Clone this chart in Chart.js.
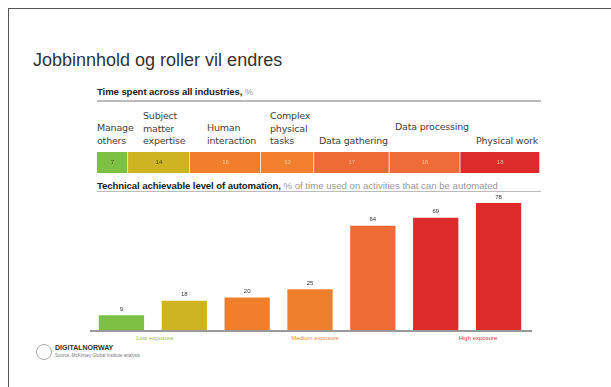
<!DOCTYPE html>
<html>
<head>
<meta charset="utf-8">
<script src="https://cdn.jsdelivr.net/npm/chart.js@4"></script>
<style>
  body { margin: 0; width: 611px; height: 387px; background: #fff; position: relative; overflow: hidden; font-family: "Liberation Sans", Arial, sans-serif; }
  .frame { position: absolute; left: 8px; top: 8px; width: 700px; height: 500px; border-top: 1.5px solid #555; border-left: 1.5px solid #555; }
  .abs { position: absolute; white-space: nowrap; }
  .title { left: 33px; top: 50px; font-size: 18px; color: #333; }
  .sub { font-size: 9.6px; color: #222; font-weight: bold; letter-spacing: -0.1px; }
  .sub span { font-weight: normal; color: #999; letter-spacing: 0; }
  .rule { position: absolute; height: 2px; background: #bbb; }
  .cat { font-family: "DejaVu Sans", sans-serif; font-size: 9.5px; color: #444; line-height: 12.5px; letter-spacing: -0.2px; }
  .exp { font-size: 6px; }
  canvas { position: absolute; }
</style>
</head>
<body>
<div class="frame"></div>
<div class="abs title">Jobbinnhold og roller vil endres</div>

<div class="abs sub" style="left:97px; top:86px;">Time spent across all industries, <span>%</span></div>
<div class="rule" style="left:97px; top:100px; width:444px;"></div>
<div id="cats"></div>
<canvas id="chartTid" width="443" height="21" style="left:97px; top:152px;"></canvas>

<div class="abs sub" style="left:97px; top:180px;">Technical achievable level of automation, <span>% of time used on activities that can be automated</span></div>
<div class="rule" style="left:97px; top:191px; width:444px; height:1px;"></div>
<canvas id="chartAuto" width="442" height="142" style="left:90px; top:190px;"></canvas>
<div id="exps"></div>

<div class="abs" style="left:36px; top:344px; width:14px; height:14px; border:1px solid #aaa; border-radius:50%;"></div>
<div class="abs" style="left:55px; top:344px; font-size:7px; font-weight:bold; color:#333;">DIGITALNORWAY</div>
<div class="abs" style="left:55px; top:353px; font-size:4.5px; color:#777;">Source: McKinsey Global Institute analysis</div>

<script>
const kategorier = ["Manage\nothers", "Subject\nmatter\nexpertise", "Human\ninteraction", "Complex\nphysical\ntasks", "Data gathering", "Data processing", "Physical work"];
const tidBrukt = [7, 14, 16, 12, 17, 16, 18];
const automatisering = [9, 18, 20, 25, 64, 69, 78];
const eksponering = ["Low exposure", "Medium exposure", "High exposure"];

const farger = ["#7cc143", "#ceb421", "#f07e2a", "#f2802f", "#ee6b35", "#ee6c37", "#dd2a2a"];
const fargerSoyler = ["#7cc143", "#ceb421", "#f07e2a", "#f07f2c", "#ee6b35", "#dd2b2b", "#dd2b2b"];
const tekstFarger = ["#3a5a20", "#4a4010", "#f8c8a0", "#f8c8a0", "#f8c0a0", "#f8c0a0", "#f5b0a8"];

// plassering av kategoritekstene over stripen
const katPos = [[97, 122], [143, 110], [207, 122], [270, 110], [319, 135], [395, 121], [476, 135]];
const katEl = document.getElementById("cats");
kategorier.forEach((k, i) => {
  const d = document.createElement("div");
  d.className = "abs cat";
  d.style.left = katPos[i][0] + "px";
  d.style.top = katPos[i][1] + "px";
  d.innerHTML = k.replace(/\n/g, "<br>");
  katEl.appendChild(d);
});

const expPos = [[155, "#9cc040"], [315, "#f08a3a"], [478, "#dd3a3a"]];
const expEl = document.getElementById("exps");
eksponering.forEach((e, i) => {
  const d = document.createElement("div");
  d.className = "abs exp";
  d.style.left = expPos[i][0] + "px";
  d.style.top = "335px";
  d.style.color = expPos[i][1];
  d.style.transform = "translateX(-50%)";
  d.innerText = e;
  expEl.appendChild(d);
});

const stripeTekst = {
  id: "stripeTekst",
  afterDatasetsDraw(chart) {
    const ctx = chart.ctx;
    ctx.save();
    ctx.font = "6px 'Liberation Sans', Arial";
    ctx.textAlign = "center";
    ctx.textBaseline = "middle";
    chart.data.datasets.forEach((ds, i) => {
      const bar = chart.getDatasetMeta(i).data[0];
      ctx.fillStyle = tekstFarger[i];
      ctx.fillText(ds.data[0], (bar.x + bar.base) / 2, bar.y);
    });
    ctx.restore();
  },
};

new Chart(document.getElementById("chartTid"), {
  type: "bar",
  data: {
    labels: [""],
    datasets: tidBrukt.map((v, i) => ({
      data: [v],
      backgroundColor: farger[i],
      borderColor: "rgba(255,255,255,0.5)",
      borderWidth: { right: 1, left: 0, top: 0, bottom: 0 },
      borderSkipped: false,
      barPercentage: 1,
      categoryPercentage: 1,
    })),
  },
  options: {
    indexAxis: "y",
    responsive: false,
    animation: false,
    layout: { padding: 0 },
    plugins: { legend: { display: false }, tooltip: { enabled: false } },
    scales: {
      x: { stacked: true, display: false, min: 0, max: 100 },
      y: { stacked: true, display: false },
    },
  },
  plugins: [stripeTekst],
});

const soyleTekst = {
  id: "soyleTekst",
  afterDatasetsDraw(chart) {
    const ctx = chart.ctx;
    const area = chart.chartArea;
    ctx.save();
    ctx.fillStyle = "#999";
    ctx.fillRect(area.left, area.bottom, area.right - area.left + 2, 2);
    ctx.font = "6px 'Liberation Sans', Arial";
    ctx.textAlign = "center";
    ctx.textBaseline = "bottom";
    ctx.fillStyle = "#333";
    chart.getDatasetMeta(0).data.forEach((bar, i) => {
      ctx.fillText(automatisering[i], bar.x, bar.y - 3);
    });
    ctx.restore();
  },
};

new Chart(document.getElementById("chartAuto"), {
  type: "bar",
  data: {
    labels: kategorier.map((k) => k.replace(/\n/g, " ")),
    datasets: [
      {
        data: automatisering,
        backgroundColor: fargerSoyler,
        barPercentage: 0.72,
        categoryPercentage: 1,
      },
    ],
  },
  options: {
    responsive: false,
    animation: false,
    layout: { padding: { left: 0, right: 2, top: 0, bottom: 2 } },
    plugins: { legend: { display: false }, tooltip: { enabled: false } },
    scales: {
      x: { display: false },
      y: { display: false, min: 0, max: 86 },
    },
  },
  plugins: [soyleTekst],
});
</script>
</body>
</html>
